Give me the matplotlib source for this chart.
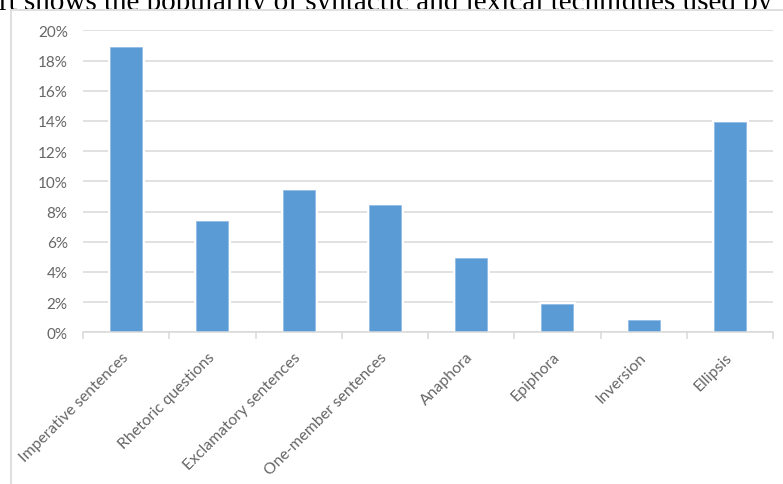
import matplotlib
matplotlib.use("Agg")
import matplotlib.pyplot as plt
from matplotlib.patches import Rectangle
from matplotlib.lines import Line2D
from matplotlib.ticker import PercentFormatter, FixedLocator

categories = ["Imperative sentences", "Rhetoric questions", "Exclamatory sentences",
              "One-member sentences", "Anaphora", "Epiphora", "Inversion", "Ellipsis"]
shares = [18.9, 7.4, 9.4, 8.4, 4.9, 1.9, 0.8, 13.9]
yticks = [0, 2, 4, 6, 8, 10, 12, 14, 16, 18, 20]
caption = "rt shows the popularity of syntactic and lexical techniques used by"

W, H = 783, 485
fig = plt.figure(figsize=(W / 100, H / 100), dpi=100)

# cut-off sentence of the surrounding document
fig.text(-1 / W, 1 - 10 / H, caption, family="Liberation Serif", fontsize=21,
         ha="left", va="baseline", color="black", zorder=1)

# chart frame (white area with light border), covers the text's lower part
fig.add_artist(Rectangle((11 / W, 0), 1, 1 - 10.2 / H, transform=fig.transFigure,
                         facecolor="white", edgecolor="none", zorder=2))
fig.add_artist(Line2D([11 / W, 11 / W], [0, 1 - 10.7 / H], transform=fig.transFigure,
                      color="#d9d9d9", lw=1.2, zorder=2.1))
fig.add_artist(Line2D([11 / W, 1], [1 - 10.7 / H, 1 - 10.7 / H], transform=fig.transFigure,
                      color="#d9d9d9", lw=1.2, zorder=2.1))

ax = fig.add_axes([83 / W, 1 - 333.3 / H, 690 / W, 302 / H], zorder=3)
ax.patch.set_alpha(0)

x = list(range(len(categories)))
bw = 0.37
# white halo that breaks the gridlines around each bar
ax.bar(x, shares, width=bw, color="white", edgecolor="white", linewidth=3.6, zorder=1.5)
ax.bar(x, shares, width=bw, color="#5b9bd5", edgecolor="#8fb9e3", linewidth=0.5, zorder=2)

ax.set_xlim(-0.5, len(categories) - 0.5)
ax.set_ylim(0, 20)
ax.set_yticks(yticks)
ax.yaxis.set_major_formatter(PercentFormatter(100, decimals=0))
ax.grid(axis="y", color="#d9d9d9", lw=1.1)
ax.set_axisbelow(True)

for s in ["top", "right", "left"]:
    ax.spines[s].set_visible(False)
ax.spines["bottom"].set_color("#d9d9d9")
ax.spines["bottom"].set_linewidth(1.1)
ax.spines["bottom"].set_zorder(3)

ax.tick_params(axis="y", length=0, pad=11, labelsize=11, labelcolor="#666666")
ax.set_xticks(x)
ax.set_xticklabels(categories, rotation=45, ha="right", va="center",
                   rotation_mode="anchor", family="Lato", fontsize=11.3, color="#666666")
ax.tick_params(axis="x", which="major", length=0, pad=16)
ax.xaxis.set_minor_locator(FixedLocator([i - 0.5 for i in range(len(categories) + 1)]))
ax.tick_params(axis="x", which="minor", length=5, width=1.1, color="#d9d9d9")
for lab in ax.get_yticklabels():
    lab.set_family("Lato")

fig.savefig("out.png", dpi=100)
